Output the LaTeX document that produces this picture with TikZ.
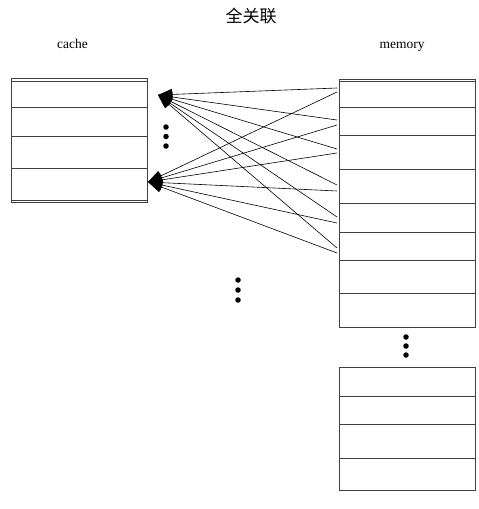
\documentclass[tikz,border=0pt]{standalone}
\usepackage{fontspec}
\setmainfont{Liberation Serif}
\newfontfamily\cjk{Noto Sans CJK SC}
\usetikzlibrary{arrows.meta}
\begin{document}
\begin{tikzpicture}[x=1pt,y=-1pt,
  boxline/.style={draw=black!75, line width=0.9pt},
  link/.style={draw=black, line width=0.6pt, -{Triangle[length=14pt,width=11pt]}},
  dotm/.style={fill=black, circle, inner sep=0pt, minimum size=5.5pt}]
\useasboundingbox (0,0) rectangle (479,509);
% title and labels
\node[font=\cjk\fontsize{17}{19}\selectfont] (title) at (251,16) {全关联};
\node[font=\fontsize{13.5}{15}\selectfont, anchor=base] (lcache) at (72.5,48) {cache};
\node[font=\fontsize{13.5}{15}\selectfont, anchor=base] (lmem) at (402,48) {memory};
% cache box
\draw[boxline] (11,78) rectangle (147,202.5);
\foreach \y in {81,107,136,168,200} \draw[boxline] (11,\y) -- (147,\y);
% memory box 1
\draw[boxline] (339,79) rectangle (475,327);
\foreach \y in {81.5,107,135,169,203,232,260,293} \draw[boxline] (339,\y) -- (475,\y);
% memory box 2
\draw[boxline] (339,367) rectangle (475,490);
\foreach \y in {396,424,458} \draw[boxline] (339,\y) -- (475,\y);
% dots
\foreach \y [count=\i] in {127,136.5,146} \node[dotm] (cd\i) at (166,\y) {};
\foreach \y [count=\i] in {280,290,300} \node[dotm] (md\i) at (238,\y) {};
\foreach \y [count=\i] in {337,346,355} \node[dotm] (rd\i) at (406,\y) {};
% connector ends
\coordinate (c1) at (158,95);
\coordinate (c2) at (148,182);
\foreach \y [count=\i] in {88,120,149,185,217,248} \coordinate (ua\i) at (337,\y);
\foreach \y [count=\i] in {92,125,153,191,223,253} \coordinate (lb\i) at (337,\y);
\foreach \i in {1,...,6} {
  \draw[link] (ua\i) -- (c1);
  \draw[link] (lb\i) -- (c2);
}
\end{tikzpicture}
\end{document}
